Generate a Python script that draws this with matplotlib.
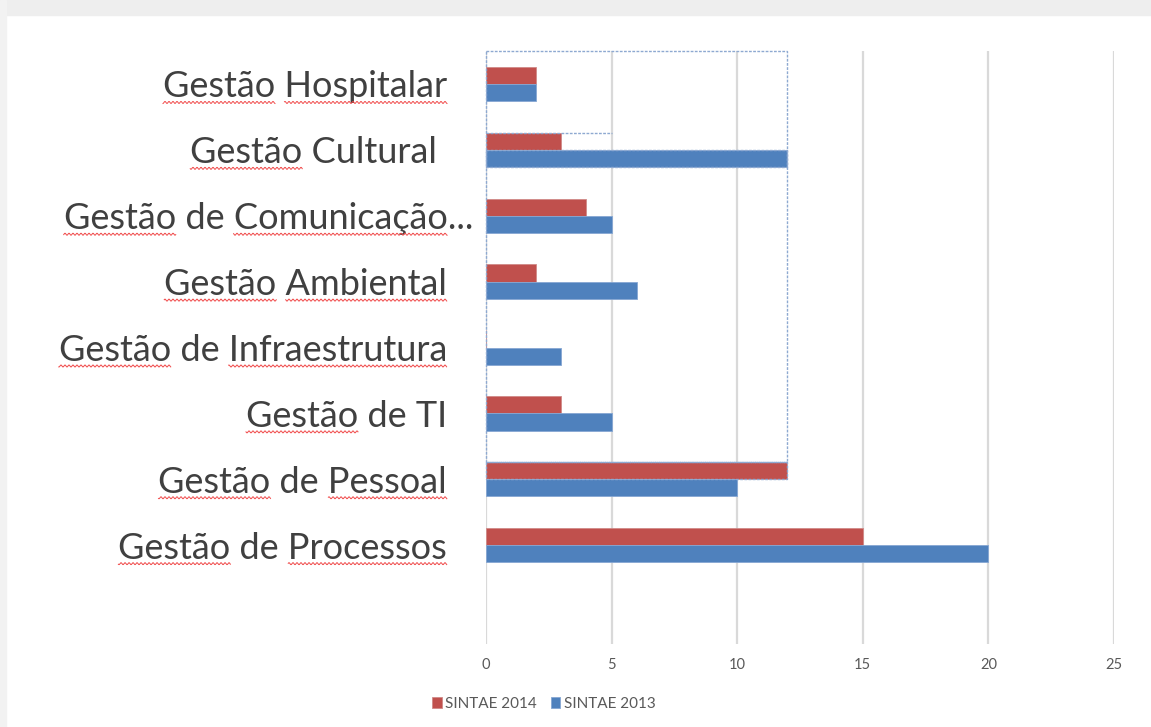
import numpy as np
import matplotlib
matplotlib.use("Agg")
import matplotlib.pyplot as plt
import matplotlib.transforms as mtrans
from matplotlib.patches import Rectangle
from matplotlib.lines import Line2D

categories = ["Gestão Hospitalar", "Gestão Cultural", "Gestão de Comunicação...",
              "Gestão Ambiental", "Gestão de Infraestrutura", "Gestão de TI",
              "Gestão de Pessoal", "Gestão de Processos"]
sintae_2014 = [2, 3, 4, 2, 0, 3, 12, 15]
sintae_2013 = [2, 12, 5, 6, 3, 5, 10, 20]
x_ticks = [0, 5, 10, 15, 20, 25]
series_names = ["SINTAE 2014", "SINTAE 2013"]
# words that carry the red spell-check squiggle
flagged = ["Gestão", "Hospitalar", "Comunicação", "Ambiental", "Infraestrutura",
           "Pessoal", "Processos"]

plt.rcParams['font.family'] = ['Lato', 'DejaVu Sans']

W, H = 1151, 727
fig = plt.figure(figsize=(W / 100, H / 100), dpi=100)
fig.patch.set_facecolor('white')

# window chrome (gray strip top and left)
fig.patches.append(Rectangle((0, 1 - 15 / H), 1, 15 / H, transform=fig.transFigure,
                             color='#eeeeee', zorder=-5))
fig.patches.append(Rectangle((0, 0), 6 / W, 1, transform=fig.transFigure,
                             color='#f2f2f2', zorder=-5))

ax = fig.add_axes([486 / W, 1 - 644 / H, 628 / W, 593 / H])
y = np.arange(len(categories))
h = 0.26
red = ax.barh(y - h / 2, sintae_2014, height=h, color='#C0504D',
              edgecolor='#d08a88', linewidth=0.6, label=series_names[0])
blue = ax.barh(y + h / 2, sintae_2013, height=h, color='#4F81BD',
               edgecolor='#86a7d3', linewidth=0.6, label=series_names[1])

ax.set_xlim(0, 25)
ax.set_ylim(len(categories) + 0.5, -0.5)
ax.set_xticks(x_ticks)
ax.grid(axis='x', color='#d9d9d9', lw=1.6)
ax.set_axisbelow(True)
for s in ax.spines.values():
    s.set_visible(False)
ax.tick_params(axis='x', length=0, pad=10, labelsize=10.5, labelcolor='#595959')
ax.set_yticks(y)
ax.set_yticklabels(categories, fontsize=26, color='#404040')
ax.tick_params(axis='y', length=0, pad=28)

# small nudges of some labels (px)
label_shift = {1: -10, 2: 26}
for i, dx in label_shift.items():
    lab = ax.get_yticklabels()[i]
    lab.set_transform(lab.get_transform() +
                      mtrans.ScaledTranslation(dx * 0.72 / 72, 0, fig.dpi_scale_trans))

# dashed selection outlines
sel = dict(fill=False, ls=(0, (2, 1)), lw=1, ec='#8ea9d1', clip_on=False, zorder=5)
pess_red, cult_red, cult_blue = red[6], red[1], blue[1]
ax.add_patch(Rectangle((0, -0.5), pess_red.get_width(), pess_red.get_y() + 0.5, **sel))
ax.add_patch(Rectangle((0, pess_red.get_y()), pess_red.get_width(), pess_red.get_height(), **sel))
ax.add_patch(Rectangle((0, cult_blue.get_y()), cult_blue.get_width(), cult_blue.get_height(), **sel))
ax.plot([0, x_ticks[1]], [cult_red.get_y()] * 2, ls=(0, (2, 1)), lw=1, color='#8ea9d1')

fig.legend(handles=[red, blue], loc='center', bbox_to_anchor=(544 / W, 1 - 704 / H),
           ncol=2, frameon=False, fontsize=11, handlelength=0.6, handleheight=0.7,
           handletextpad=0.25, columnspacing=0.9, labelcolor='#595959')

# spell-check squiggles under flagged words
fig.canvas.draw()
r = fig.canvas.get_renderer()
for lab in ax.get_yticklabels():
    txt = lab.get_text()
    fp = lab.get_fontproperties()
    bb = lab.get_window_extent(r)
    pos = 0
    for word in txt.replace('...', '').split(' '):
        start = txt.index(word, pos)
        end = start + len(word)
        pos = end
        if word not in flagged:
            continue
        x1 = bb.x0 + r.get_text_width_height_descent(txt[:end], fp, ismath=False)[0]
        x0 = x1 - r.get_text_width_height_descent(word, fp, ismath=False)[0]
        xs = np.arange(x0, x1, 0.5)
        ys = bb.y0 + 1 + 1.0 * np.sin(xs * 2 * np.pi / 4)
        fig.add_artist(Line2D(xs, ys, color='#f04848', lw=0.7,
                              transform=mtrans.IdentityTransform()))

fig.savefig('out.png', dpi=100)
